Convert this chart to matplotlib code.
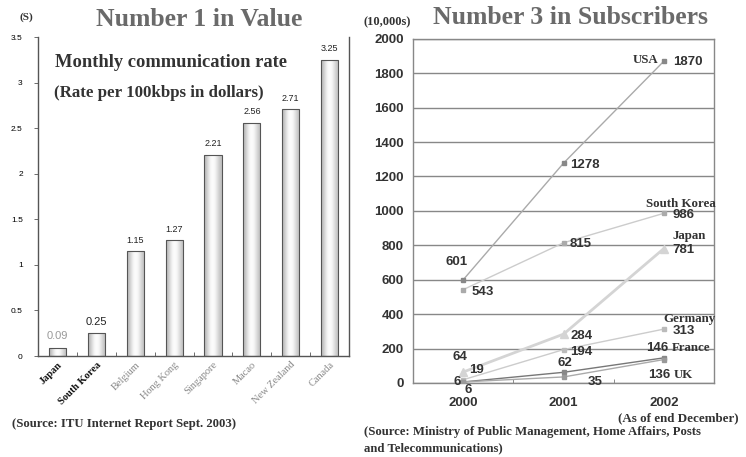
import matplotlib.pyplot as plt
import numpy as np

# ---- data ----
countries = ['Japan', 'South Korea', 'Belgium', 'Hong Kong', 'Singapore',
             'Macao', 'New Zealand', 'Canada']
rates = [0.09, 0.25, 1.15, 1.27, 2.21, 2.56, 2.71, 3.25]

years = [2000, 2001, 2002]
usa = [601, 1278, 1870]
south_korea = [543, 815, 986]
japan = [64, 284, 781]
germany = [19, 194, 313]
france = [6, 62, 146]
uk = [6, 35, 136]

SERIF = 'Liberation Serif'
SANS = 'Liberation Sans'

fig = plt.figure(figsize=(7.46, 4.57), dpi=100)

# ---------------- left: bar chart ----------------
ax1 = fig.add_axes([0.051, 0.221, 0.417, 0.698])
x = np.arange(len(countries))
bars = ax1.bar(x, rates, width=0.44, color='none', edgecolor='#555555',
               linewidth=0.8, zorder=3)
grad = np.array([[0.72, 0.85, 0.97, 1.0, 0.95, 0.85, 0.75]])
for b in bars:
    x0, y0 = b.get_x(), b.get_y()
    im = ax1.imshow(grad, cmap='gray', vmin=0, vmax=1, aspect='auto',
                    extent=(x0, x0 + b.get_width(), y0, y0 + b.get_height()),
                    zorder=2, interpolation='bicubic')
    im.set_clip_path(b)
for i, v in enumerate(rates):
    ax1.text(i, v + 0.07, f'{v:.2f}', ha='center', va='bottom',
             fontsize=8 if i < 2 else 6.5, family=SANS,
             color='#999999' if i == 0 else '#222222')

ax1.set_xlim(-0.5, len(countries) - 0.5)
ax1.set_ylim(0, 3.5)
ax1.set_yticks([0, 0.5, 1, 1.5, 2, 2.5, 3, 3.5])
ax1.set_yticklabels(['0', '0.5', '1', '1.5', '2', '2.5', '3', '3.5'],
                    fontsize=6, family=SANS)
ax1.set_xticks(x)
ax1.set_xticklabels(countries, rotation=45, ha='right', rotation_mode='anchor',
                    fontsize=7.5, family=SERIF)
for i, lab in enumerate(ax1.get_xticklabels()):
    if i < 2:
        lab.set_fontweight('bold')
        lab.set_color('#111111')
    else:
        lab.set_color('#888888')
ax1.tick_params(axis='x', length=0, pad=3)
ax1.tick_params(axis='y', length=3, width=0.6, color='#555555', pad=8)
ax1.set_xticks(np.arange(0.5, len(countries) - 0.5), minor=True)
ax1.tick_params(axis='x', which='minor', direction='in', length=3, color='#555555')
ax1.spines['top'].set_visible(False)
for s in ('left', 'right', 'bottom'):
    ax1.spines[s].set_color('#555555')
    ax1.spines[s].set_linewidth(1.0)

fig.text(0.267, 0.958, 'Number 1 in Value', ha='center', va='center',
         fontsize=18.5, family=SERIF, fontweight='bold', color='#6a6a6a')
fig.text(0.036, 0.962, '(S)', ha='center', va='center', fontsize=8,
         family=SERIF, fontweight='bold', color='#333333')
ax1.text(0.055, 0.92, 'Monthly communication rate', transform=ax1.transAxes,
         ha='left', va='center', fontsize=13.3, family=SERIF, fontweight='bold',
         color='#333333')
ax1.text(0.05, 0.825, '(Rate per 100kbps in dollars)', transform=ax1.transAxes,
         ha='left', va='center', fontsize=12.2, family=SERIF, fontweight='bold',
         color='#333333')
fig.text(0.016, 0.072, '(Source: ITU Internet Report Sept. 2003)', ha='left',
         va='center', fontsize=9.2, family=SERIF, fontweight='bold', color='#333333')

# ---------------- right: line chart ----------------
ax2 = fig.add_axes([0.554, 0.162, 0.403, 0.753])
ax2.plot(years, usa, color='#aaaaaa', lw=1.0, marker='s', ms=2.5,
         mfc='#888888', mec='#888888', zorder=3)
ax2.plot(years, south_korea, color='#cccccc', lw=1.0, marker='s', ms=2.5,
         mfc='#aaaaaa', mec='#aaaaaa', zorder=3)
ax2.plot(years, japan, color='#d4d4d4', lw=2.0, marker='^', ms=6,
         mfc='#d4d4d4', mec='#d4d4d4', zorder=3)
ax2.plot(years, germany, color='#cccccc', lw=1.0, marker='s', ms=2.5,
         mfc='#bbbbbb', mec='#bbbbbb', zorder=3)
ax2.plot(years, france, color='#777777', lw=1.0, marker='s', ms=3,
         mfc='#888888', mec='#888888', zorder=3)
ax2.plot(years, uk, color='#aaaaaa', lw=1.0, marker='s', ms=2.5,
         mfc='#999999', mec='#999999', zorder=3)

ax2.set_xlim(1999.5, 2002.5)
ax2.set_ylim(0, 2000)
ax2.set_yticks(range(0, 2001, 200))
ax2.set_xticks(years)
ax2.set_xticklabels([str(y) for y in years], fontsize=9.5, family=SANS,
                    fontweight='bold', color='#333333')
for lab in ax2.get_yticklabels():
    lab.set_fontsize(9.5)
    lab.set_family(SANS)
    lab.set_fontweight('bold')
    lab.set_color('#333333')
ax2.tick_params(axis='y', length=0, pad=7)
ax2.tick_params(axis='x', length=0, pad=10)
ax2.set_xticks([2000.5, 2001.5], minor=True)
ax2.tick_params(axis='x', which='minor', direction='in', length=3, color='#777777')
ax2.grid(axis='y', color='#888888', lw=1.0, zorder=1)
for s in ax2.spines.values():
    s.set_color('#888888')
    s.set_linewidth(1.0)

num = dict(fontsize=9.5, family=SANS, fontweight='bold', color='#333333',
           textcoords='offset points', va='center')
name = dict(fontsize=9.3, family=SERIF, fontweight='bold', color='#333333',
            textcoords='offset points', va='center')
px = 0.72  # points per pixel

def lab(text, xv, yv, dx, dy, style, ha='left'):
    ax2.annotate(text, (xv, yv), xytext=(dx * px, dy * px), ha=ha,
                 annotation_clip=False, **style)

# USA
lab('USA', years[2], usa[2], -5, 1, name, 'right')
lab(str(usa[2]), years[2], usa[2], 9, -1, num)
lab(str(usa[1]), years[1], usa[1], 7, -2, num)
lab(str(usa[0]), years[0], usa[0], -7, 18, num, 'center')
# South Korea
lab('South Korea', years[2], south_korea[2], 52, 9, name, 'right')
lab(str(south_korea[2]), years[2], south_korea[2], 9, -2, num)
lab(str(south_korea[1]), years[1], south_korea[1], 6, -1, num)
lab(str(south_korea[0]), years[0], south_korea[0], 8, -2, num)
# Japan
lab('Japan', years[2], japan[2], 9, 13, name)
lab(str(japan[2]), years[2], japan[2], 9, -1, num)
lab(str(japan[1]), years[1], japan[1], 7, -2, num)
lab(str(japan[0]), years[0], japan[0], -3, 15, num, 'center')
# Germany
lab('Germany', years[2], germany[2], 0, 10, name)
lab(str(germany[2]), years[2], germany[2], 9, -2, num)
lab(str(germany[1]), years[1], germany[1], 7, -2, num)
lab(str(germany[0]), years[0], germany[0], 13, 10, num, 'center')
# France
lab(str(france[2]), years[2], france[2], -18, 10, num)
lab('France', years[2], france[2], 8, 10, name)
lab(str(france[1]), years[1], france[1], 1, 9, num, 'center')
lab(str(france[0]), years[0], france[0], -6, 0, num, 'center')
# UK
lab(str(uk[2]), years[2], uk[2], -16, -15, num)
lab('UK', years[2], uk[2], 10, -15, name)
lab(str(uk[1]), years[1], uk[1], 31, -5, num, 'center')
lab(str(uk[0]), years[0], uk[0], 5, -8, num, 'center')

fig.text(0.765, 0.962, 'Number 3 in Subscribers', ha='center', va='center',
         fontsize=18.5, family=SERIF, fontweight='bold', color='#6a6a6a')
fig.text(0.487, 0.952, '(10,000s)', ha='left', va='center', fontsize=9,
         family=SERIF, fontweight='bold', color='#333333')
fig.text(0.990, 0.085, '(As of end December)', ha='right', va='center',
         fontsize=9.4, family=SERIF, fontweight='bold', color='#333333')
fig.text(0.488, 0.054, '(Source: Ministry of Public Management, Home Affairs, Posts',
         ha='left', va='center', fontsize=9.2, family=SERIF, fontweight='bold',
         color='#333333')
fig.text(0.488, 0.018, 'and Telecommunications)', ha='left', va='center',
         fontsize=9.2, family=SERIF, fontweight='bold', color='#333333')

fig.savefig('out.png', dpi=100)
